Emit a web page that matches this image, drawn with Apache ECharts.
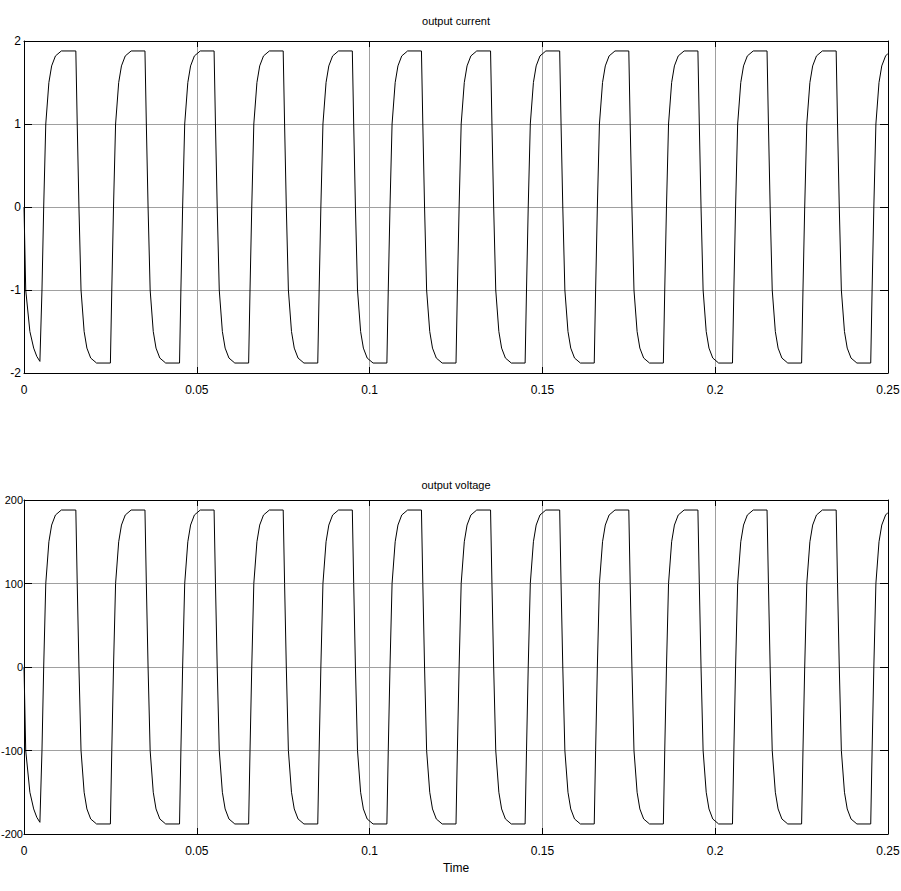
<!DOCTYPE html>
<html>
<head>
<meta charset="utf-8">
<script src="https://cdn.jsdelivr.net/npm/echarts@6/dist/echarts.min.js"></script>
<style>
html,body{margin:0;padding:0;background:#fff;}
#chart{width:901px;height:891px;}
</style>
</head>
<body>
<div id="chart"></div>
<script>
// Time stamps (s)
const timeS = [
  0, 0.0005, 0.0017, 0.0028, 0.0037, 0.0046,
  0.0048, 0.0052, 0.0057, 0.0063, 0.0072, 0.008, 0.0091, 0.0108,
  0.015, 0.0154, 0.0159, 0.0165, 0.0174, 0.0182, 0.0193, 0.021,
  0.025, 0.0254, 0.0259, 0.0265, 0.0274, 0.0282, 0.0293, 0.031,
  0.035, 0.0354, 0.0359, 0.0365, 0.0374, 0.0382, 0.0393, 0.041,
  0.045, 0.0454, 0.0459, 0.0465, 0.0474, 0.0482, 0.0493, 0.051,
  0.055, 0.0554, 0.0559, 0.0565, 0.0574, 0.0582, 0.0593, 0.061,
  0.065, 0.0654, 0.0659, 0.0665, 0.0674, 0.0682, 0.0693, 0.071,
  0.075, 0.0754, 0.0759, 0.0765, 0.0774, 0.0782, 0.0793, 0.081,
  0.085, 0.0854, 0.0859, 0.0865, 0.0874, 0.0882, 0.0893, 0.091,
  0.095, 0.0954, 0.0959, 0.0965, 0.0974, 0.0982, 0.0993, 0.101,
  0.105, 0.1054, 0.1059, 0.1065, 0.1074, 0.1082, 0.1093, 0.111,
  0.115, 0.1154, 0.1159, 0.1165, 0.1174, 0.1182, 0.1193, 0.121,
  0.125, 0.1254, 0.1259, 0.1265, 0.1274, 0.1282, 0.1293, 0.131,
  0.135, 0.1354, 0.1359, 0.1365, 0.1374, 0.1382, 0.1393, 0.141,
  0.145, 0.1454, 0.1459, 0.1465, 0.1474, 0.1482, 0.1493, 0.151,
  0.155, 0.1554, 0.1559, 0.1565, 0.1574, 0.1582, 0.1593, 0.161,
  0.165, 0.1654, 0.1659, 0.1665, 0.1674, 0.1682, 0.1693, 0.171,
  0.175, 0.1754, 0.1759, 0.1765, 0.1774, 0.1782, 0.1793, 0.181,
  0.185, 0.1854, 0.1859, 0.1865, 0.1874, 0.1882, 0.1893, 0.191,
  0.195, 0.1954, 0.1959, 0.1965, 0.1974, 0.1982, 0.1993, 0.201,
  0.205, 0.2054, 0.2059, 0.2065, 0.2074, 0.2082, 0.2093, 0.211,
  0.215, 0.2154, 0.2159, 0.2165, 0.2174, 0.2182, 0.2193, 0.221,
  0.225, 0.2254, 0.2259, 0.2265, 0.2274, 0.2282, 0.2293, 0.231,
  0.235, 0.2354, 0.2359, 0.2365, 0.2374, 0.2382, 0.2393, 0.241,
  0.245, 0.2454, 0.2459, 0.2465, 0.2474, 0.2482, 0.2493, 0.25
];

// Output current (A)
const currentA = [
  0, -1.0, -1.5, -1.7, -1.8, -1.86,
  -1.86, -1.0, 0, 1.0, 1.5, 1.7, 1.82, 1.88,
  1.88, 1.0, 0, -1.0, -1.5, -1.7, -1.82, -1.88,
  -1.88, -1.0, 0, 1.0, 1.5, 1.7, 1.82, 1.88,
  1.88, 1.0, 0, -1.0, -1.5, -1.7, -1.82, -1.88,
  -1.88, -1.0, 0, 1.0, 1.5, 1.7, 1.82, 1.88,
  1.88, 1.0, 0, -1.0, -1.5, -1.7, -1.82, -1.88,
  -1.88, -1.0, 0, 1.0, 1.5, 1.7, 1.82, 1.88,
  1.88, 1.0, 0, -1.0, -1.5, -1.7, -1.82, -1.88,
  -1.88, -1.0, 0, 1.0, 1.5, 1.7, 1.82, 1.88,
  1.88, 1.0, 0, -1.0, -1.5, -1.7, -1.82, -1.88,
  -1.88, -1.0, 0, 1.0, 1.5, 1.7, 1.82, 1.88,
  1.88, 1.0, 0, -1.0, -1.5, -1.7, -1.82, -1.88,
  -1.88, -1.0, 0, 1.0, 1.5, 1.7, 1.82, 1.88,
  1.88, 1.0, 0, -1.0, -1.5, -1.7, -1.82, -1.88,
  -1.88, -1.0, 0, 1.0, 1.5, 1.7, 1.82, 1.88,
  1.88, 1.0, 0, -1.0, -1.5, -1.7, -1.82, -1.88,
  -1.88, -1.0, 0, 1.0, 1.5, 1.7, 1.82, 1.88,
  1.88, 1.0, 0, -1.0, -1.5, -1.7, -1.82, -1.88,
  -1.88, -1.0, 0, 1.0, 1.5, 1.7, 1.82, 1.88,
  1.88, 1.0, 0, -1.0, -1.5, -1.7, -1.82, -1.88,
  -1.88, -1.0, 0, 1.0, 1.5, 1.7, 1.82, 1.88,
  1.88, 1.0, 0, -1.0, -1.5, -1.7, -1.82, -1.88,
  -1.88, -1.0, 0, 1.0, 1.5, 1.7, 1.82, 1.88,
  1.88, 1.0, 0, -1.0, -1.5, -1.7, -1.82, -1.88,
  -1.88, -1.0, 0, 1.0, 1.5, 1.7, 1.82, 1.85
];

// Output voltage (V)
const voltageV = [
  0, -100, -150, -170, -180, -186,
  -186, -100, 0, 100, 150, 170, 182, 188,
  188, 100, 0, -100, -150, -170, -182, -188,
  -188, -100, 0, 100, 150, 170, 182, 188,
  188, 100, 0, -100, -150, -170, -182, -188,
  -188, -100, 0, 100, 150, 170, 182, 188,
  188, 100, 0, -100, -150, -170, -182, -188,
  -188, -100, 0, 100, 150, 170, 182, 188,
  188, 100, 0, -100, -150, -170, -182, -188,
  -188, -100, 0, 100, 150, 170, 182, 188,
  188, 100, 0, -100, -150, -170, -182, -188,
  -188, -100, 0, 100, 150, 170, 182, 188,
  188, 100, 0, -100, -150, -170, -182, -188,
  -188, -100, 0, 100, 150, 170, 182, 188,
  188, 100, 0, -100, -150, -170, -182, -188,
  -188, -100, 0, 100, 150, 170, 182, 188,
  188, 100, 0, -100, -150, -170, -182, -188,
  -188, -100, 0, 100, 150, 170, 182, 188,
  188, 100, 0, -100, -150, -170, -182, -188,
  -188, -100, 0, 100, 150, 170, 182, 188,
  188, 100, 0, -100, -150, -170, -182, -188,
  -188, -100, 0, 100, 150, 170, 182, 188,
  188, 100, 0, -100, -150, -170, -182, -188,
  -188, -100, 0, 100, 150, 170, 182, 188,
  188, 100, 0, -100, -150, -170, -182, -188,
  -188, -100, 0, 100, 150, 170, 182, 185
];

const titles = ['output current', 'output voltage'];
const xAxisName = 'Time';
const xRange = [0, 0.25, 0.05];
const currentRange = [-2, 2, 1];
const voltageRange = [-200, 200, 100];

const FONT = "'Liberation Sans', Arial, sans-serif";

const chart = echarts.init(document.getElementById('chart'), null, {renderer: 'svg'});

function xAx(gi, withName) {
  const ax = {
    type: 'value', gridIndex: gi,
    min: xRange[0], max: xRange[1], interval: xRange[2],
    axisLine: {show: true, onZero: false, lineStyle: {color: '#000', width: 1}},
    axisTick: {show: true, inside: true, length: 6, lineStyle: {color: '#000'}},
    axisLabel: {color: '#000', fontFamily: FONT, fontSize: 12, margin: 11},
    splitLine: {show: true, lineStyle: {color: '#a0a0a0', width: 1}}
  };
  if (withName) {
    ax.name = xAxisName;
    ax.nameLocation = 'middle';
    ax.nameGap = 28;
    ax.nameTextStyle = {color: '#000', fontFamily: FONT, fontSize: 12};
  }
  return ax;
}
function xTop(gi) {
  return {
    type: 'value', gridIndex: gi, position: 'top',
    min: xRange[0], max: xRange[1], interval: xRange[2],
    axisLine: {show: true, onZero: false, lineStyle: {color: '#000', width: 1}},
    axisTick: {show: true, inside: true, length: 6, lineStyle: {color: '#000'}},
    axisLabel: {show: false}, splitLine: {show: false}
  };
}
function yAx(gi, r, fs, mg) {
  return {
    type: 'value', gridIndex: gi,
    min: r[0], max: r[1], interval: r[2],
    axisLine: {show: true, onZero: false, lineStyle: {color: '#000', width: 1}},
    axisTick: {show: true, inside: true, length: 8, lineStyle: {color: '#000'}},
    axisLabel: {color: '#000', fontFamily: FONT, fontSize: fs, margin: mg},
    splitLine: {show: true, lineStyle: {color: '#a0a0a0', width: 1}}
  };
}
function yRight(gi, r) {
  return {
    type: 'value', gridIndex: gi, position: 'right',
    min: r[0], max: r[1], interval: r[2],
    axisLine: {show: true, onZero: false, lineStyle: {color: '#000', width: 1}},
    axisTick: {show: true, inside: true, length: 8, lineStyle: {color: '#000'}},
    axisLabel: {show: false}, splitLine: {show: false}
  };
}

const option = {
  backgroundColor: '#fff',
  animation: false,
  grid: [
    {left: 24, right: 13, top: 41, height: 332, outerBoundsMode: 'none', containLabel: false},
    {left: 24, right: 13, top: 500, height: 334, outerBoundsMode: 'none', containLabel: false}
  ],
  graphic: [
    {type: 'text', x: 456, y: 21, style: {text: titles[0], fill: '#000', font: '11px ' + FONT, textAlign: 'center', textVerticalAlign: 'middle'}},
    {type: 'text', x: 456, y: 485, style: {text: titles[1], fill: '#000', font: '11px ' + FONT, textAlign: 'center', textVerticalAlign: 'middle'}}
  ],
  xAxis: [xAx(0, false), xAx(1, true), xTop(0), xTop(1)],
  yAxis: [yAx(0, currentRange, 12, 3), yAx(1, voltageRange, 11, 1), yRight(0, currentRange), yRight(1, voltageRange)],
  series: [
    {
      type: 'line', xAxisIndex: 0, yAxisIndex: 0, showSymbol: false, symbol: 'none',
      lineStyle: {color: '#000', width: 1}, data: timeS.map((t, i) => [t, currentA[i]])
    },
    {
      type: 'line', xAxisIndex: 1, yAxisIndex: 1, showSymbol: false, symbol: 'none',
      lineStyle: {color: '#000', width: 1}, data: timeS.map((t, i) => [t, voltageV[i]])
    }
  ]
};
chart.setOption(option);
</script>
</body>
</html>
